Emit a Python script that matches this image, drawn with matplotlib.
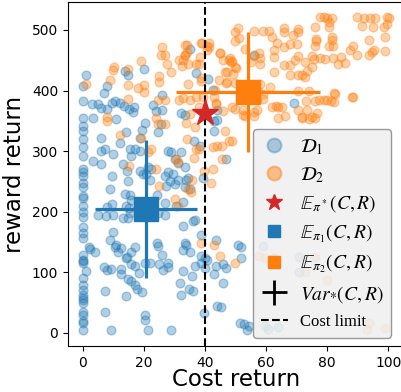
import matplotlib
matplotlib.use('Agg')
import matplotlib.pyplot as plt
from matplotlib.lines import Line2D

# dataset D1 (blue) : cost return, reward return
d1_cost = [1.1, 0, 0, 3, 5, 6, 8, 9.5, 10.5, 12, 13.5, 15, 16.5, 16.8, 7, 8, 13.8, 14.6, 20, 26,
           23, 24, 26, 32, 35, 37, 41, 44, 42.6, 43.9, 33.4, 69, 56,
           0, 0, 0, 0, 0, 0, 0, 0, 0, 0, 0, 0, 0, 0, 0, 0, 0, 0, 0, 0, 0, 0, 0, 0, 0, 0, 0, 0, 0, 0, 0, 0, 0, 0, 0,
           3.3, 6, 7.1, 6, 9.8, 10.9, 14.2, 12, 15.3, 15.8, 18.6, 17, 19.2, 18.6, 20.2, 24.6, 25.5, 27.9, 29, 30.3,
           31.1, 32.2, 33.3, 34.4, 33.8, 36.3, 38.2, 43.1, 43.1, 46.9, 3.3, 6, 13, 14.4, 14.8, 9.6, 9, 13.9, 15.3, 15.8,
           18.6, 19.7, 21.3, 22.4, 20.8, 21.9, 26.8, 27.9, 29.5, 28.4, 30, 27.3, 24.2, 31.1, 33.3, 35, 9.5, 8, 14, 15,
           26.8, 30.6, 32.8, 4.9, 7.6, 9.8, 13, 14.8, 15.3, 24.6, 26.8, 32.8, 36.6, 36, 39.5,
           1.9, 2.2, 4.1, 1.1, 6.9, 8, 9.1, 7.1, 7.1, 9.1, 8.8, 9.8, 10.9, 10.4, 12.4, 11.5, 12.4, 12.4, 14.2, 14.5,
           15.9, 17, 15.9, 17, 18.4, 14.8, 15.9, 17, 17.6, 19.2, 14.2, 20.2, 22, 20.2, 20.2, 21.3, 24.2, 24.5, 25.8, 24.8,
           26.2, 27.9, 27.9, 28.9, 31.7, 32, 32.8, 33.3, 33.9, 32.8, 35, 34.8, 36.1, 35.8, 36.6, 38.6, 38.8, 38.8, 39.9, 40.8,
           39.9, 39.7, 43.7, 42.9, 43.7, 45.9, 46.9, 45.9, 43.9, 45.1, 50.8, 51.9, 51.9, 58.9, 62.5, 70.7, 70.7, 51.6, 52.7, 53.8,
           54.3, 59.8, 60.7, 64]
d1_reward = [426, 407, 383, 377, 377, 371, 370, 380, 383, 379, 375, 370, 364, 372, 396, 407, 432, 426, 435, 392,
             376, 366, 368, 363, 469, 429, 419, 368, 401, 352, 360, 379, 459,
             355, 342, 333, 320, 306, 292, 270, 265, 259, 248, 240, 226, 223, 210, 199, 191, 174, 164.5, 156, 129, 120, 118,
             115, 90, 79, 71, 62, 57, 54, 49, 35, 30, 19, 16, 5,
             355, 322, 303, 300, 295, 353, 331, 314, 303, 292, 300, 303, 335, 322, 347, 331, 344, 300, 298, 287,
             281, 298, 273, 256, 253, 317, 309, 350, 333, 287, 284, 279, 279, 267, 251, 259, 238, 230, 228, 220,
             267, 262, 273, 270, 262, 253, 259, 265, 262, 251, 246, 243, 228, 253, 240, 237, 212, 208, 210, 206,
             214, 210, 216, 195, 193, 195, 190, 190, 198, 198, 195, 177, 187, 185, 255,
             142, 138, 134, 103, 109, 104, 106, 69, 34, 5, 154, 167, 145, 142, 140, 134, 106, 98, 123, 126,
             134, 142, 113, 110, 99, 89, 86, 79, 73, 68, 61, 115, 116, 30, 21, 5, 148, 144, 129, 114,
             104, 116, 109, 5, 82, 62, 103, 149, 145, 137, 133, 72, 70, 94, 111, 115, 162, 127, 123, 121,
             107, 33, 154, 98, 110, 114, 108, 83, 45, 43, 145, 142, 123, 144, 123, 126, 101, 16, 15, 5,
             11, 12, 7, 9.7]

# dataset D2 (orange)
d2_cost = [1, 9.8, 10.3, 9, 14.8, 14.6, 14.8, 18, 20, 20, 19, 25.5, 27, 26, 27.5, 25, 25, 24.5, 27, 28.8,
           31.5, 32.5, 31.5, 34, 33.5, 34.5, 37, 34.5, 37, 38.7, 40.8, 40.8, 38.2, 38.7, 44.8, 46, 48, 48.5, 46.5, 46.8,
           49.3, 49.8, 49.8, 49.8, 49, 43, 43.5,
           50.8, 51, 53, 49.9, 56, 59, 61, 62, 65.8, 65.8, 70.6, 70.6, 68.7, 63.5, 66, 68, 70, 62.7, 57.8, 56,
           58, 58, 55, 62.7, 70.6, 69.6, 72.7, 75.1, 75.6, 77.8, 79.4, 81.9, 84.4, 86, 83.6, 65.8, 68, 75, 73.4, 62.7,
           67.7, 70.4, 71.7, 72.8, 76.2, 77.8, 78.9, 80, 81.6, 80.6, 80.6, 76.5, 76.5, 81.6, 81.6, 76, 80.6, 82, 89.8, 92,
           94.2, 95.8, 99.7, 100.2, 91.6, 94.9, 98.7, 99.7, 98.9, 93.6, 87.5, 88.5, 89.8, 93.8, 94.7, 95.5, 98.9, 82.2, 88.1, 79,
           81.2, 75.9, 73.1, 74, 70.5, 58.1, 57.5, 58.9, 61.3, 59, 61.9, 65.3, 49.9, 55.9, 57,
           33.4, 34, 38.9, 41.3, 41.3, 44.9, 48.3, 49, 50.1, 47.1, 47.3, 44.6, 38.6, 33.4, 32.8, 37.9, 39.5, 32.8, 35, 38,
           35, 46, 43.7, 43.3,
           8, 12, 18.9, 22.2, 21.3, 24, 24.7, 26.8, 23.9, 15, 25, 30.2, 31.1, 30.6, 31.1, 33.8, 36.6, 34, 36.9, 38,
           36.5, 35.8, 34.3, 35.4, 39.8, 41.8, 42.7, 42.7, 44, 45.6, 46.7, 47.8, 45.6,
           38.8, 43, 44.9, 49.8, 57.8, 59.8, 75.9, 72.8, 79.9, 93.7, 93.1, 98.9,
           53.2, 56, 63.9, 71.8, 74, 76.2, 48.9, 56.9, 63.3, 63.8, 66.2, 70.6, 71.7, 73.3, 75, 76.6, 77.2, 79.9, 82.1, 82.6,
           88.6, 52.6, 52.6, 7.8]
d2_reward = [410, 433, 438, 418, 435, 409, 386, 404, 409, 398, 448, 459, 459, 472, 443, 424, 414, 385, 385, 430,
             450, 440, 385, 475, 459, 443, 443, 411, 389, 479, 474, 466, 455, 416, 462, 451, 451, 447, 430, 412,
             427, 413, 496, 482, 372, 389, 380,
             503, 487, 469, 439, 498, 498, 498, 488, 503, 496, 501, 496, 491, 478, 472, 476, 476, 466, 462, 457,
             453, 444, 447, 455, 457, 450, 447, 457, 452, 454, 452, 454, 455, 446, 443, 442, 442, 439, 432, 430,
             426, 426, 426, 422, 505, 521, 521, 519, 519, 513, 505, 485, 482, 488, 483, 474, 474, 474, 521, 519,
             519, 519, 521, 519, 507, 505, 505, 509, 489, 484, 467, 474, 459, 459, 463, 466, 465, 396, 389, 385,
             383, 383, 383, 400, 400, 411, 400, 395, 406, 386, 373, 373, 370, 365, 368,
             475, 464, 479, 478, 471, 462, 453, 449, 437, 431, 414, 417, 420, 459, 451, 443, 390, 387, 385, 372,
             362, 367, 378, 401,
             349, 326, 321, 304, 298, 355, 345, 345, 270, 275, 243, 221, 210, 287, 282, 347, 339, 320, 303, 304,
             288, 253, 237, 232, 267, 248, 270, 306, 309, 309, 333, 317, 287,
             148, 145, 127, 116, 127, 123, 126, 100, 88, 16, 5, 8,
             358, 358, 354, 355, 353, 355, 317, 384, 375, 372, 358, 368, 357, 368, 357, 363, 384, 384, 381, 395,
             390, 368, 360, 357]

# expectations and spreads
pi1_mean = (20.6, 205)
pi1_err = (16.7, 114)
pi2_mean = (54.1, 398)
pi2_err = (23.6, 99)
opt_mean = (40, 363)
cost_limit = 40

plt.rcParams['mathtext.fontset'] = 'stix'

fig = plt.figure(figsize=(4.01, 3.92), dpi=100)
ax = fig.add_axes([68 / 401, 46 / 392, 336 / 401, 344 / 392])

ax.scatter(d1_cost, d1_reward, s=40, color='tab:blue', alpha=0.35, linewidths=1)
ax.scatter(d2_cost, d2_reward, s=40, color='tab:orange', alpha=0.35, linewidths=1)

ax.errorbar(pi1_mean[0], pi1_mean[1], xerr=pi1_err[0], yerr=pi1_err[1], fmt='s',
            color='tab:blue', markersize=17, elinewidth=2.3, capsize=0)
ax.errorbar(pi2_mean[0], pi2_mean[1], xerr=pi2_err[0], yerr=pi2_err[1], fmt='s',
            color='tab:orange', markersize=17, elinewidth=2.3, capsize=0)
ax.plot(opt_mean[0], opt_mean[1], marker='*', color='tab:red', markersize=20, linestyle='none', zorder=5)
ax.axvline(cost_limit, color='black', linestyle='--', linewidth=1.5)

ax.set_xlim(-4.9, 105.2)
ax.set_ylim(-21.5, 546)
ax.set_xticks([0, 20, 40, 60, 80, 100])
ax.set_yticks([0, 100, 200, 300, 400, 500])
ax.tick_params(labelsize=10)
ax.set_xlabel('Cost return', fontsize=16.5, labelpad=-1)
ax.set_ylabel('reward return', fontsize=16.5, labelpad=4)

handles = [
    Line2D([], [], marker='o', linestyle='none', markersize=10, color='tab:blue', alpha=0.35, markeredgewidth=1.5),
    Line2D([], [], marker='o', linestyle='none', markersize=10, color='tab:orange', alpha=0.45, markeredgewidth=1.5),
    Line2D([], [], marker='*', linestyle='none', markersize=12, color='tab:red'),
    Line2D([], [], marker='s', linestyle='none', markersize=8, color='tab:blue'),
    Line2D([], [], marker='s', linestyle='none', markersize=8, color='tab:orange'),
    Line2D([], [], marker='+', linestyle='none', markersize=18, markeredgewidth=2, color='black'),
    Line2D([], [], linestyle='--', linewidth=1.5, color='black'),
]
labels = [r'$\mathcal{D}_1$', r'$\mathcal{D}_2$', r'$\mathbb{E}_{\pi^*}(C,R)$',
          r'$\mathbb{E}_{\pi_1}(C,R)$', r'$\mathbb{E}_{\pi_2}(C,R)$', r'$Var_{*}(C,R)$', 'Cost limit']
leg = ax.legend(handles, labels, loc='lower right', bbox_to_anchor=(0.961, 0.023), borderaxespad=0,
                prop={'family': 'Liberation Serif', 'size': 14}, facecolor='#efefef', edgecolor='#888888',
                framealpha=0.85, handlelength=1.4, handletextpad=0.6, labelspacing=0.42, borderpad=0.4)
leg.get_texts()[-1].set_fontsize(12)

fig.savefig('out.png', dpi=100)
plt.close(fig)
